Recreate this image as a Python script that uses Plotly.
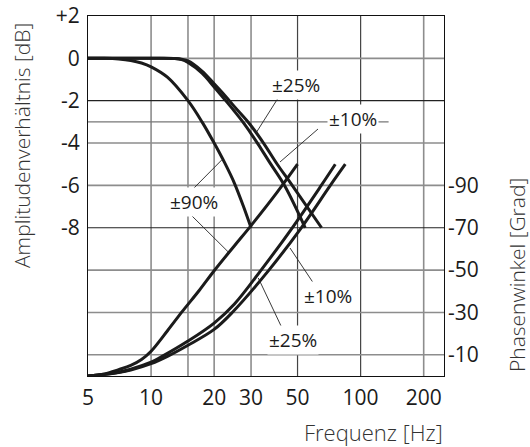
import plotly.graph_objects as go

# ---------------- data ----------------
# amplitude curves [Hz] -> [dB]
amp90_f = [5, 6, 7, 8, 9, 10, 12, 15, 17.5, 20, 22.5, 25, 27.5, 30]
amp90_db = [0, 0, -0.03, -0.1, -0.22, -0.4, -0.9, -2.0, -3.0, -4.0, -4.95, -5.9, -6.95, -8.0]

amp25_f = [5, 10, 13, 14, 15, 17.5, 20, 22.5, 25, 27.4, 30, 32.4, 37, 43.6, 54.4]
amp25_db = [0, 0, -0.01, -0.06, -0.2, -0.7, -1.35, -1.95, -2.5, -3.0, -3.55, -4.05, -4.95, -6.05, -8.0]

amp10_f = [5, 10, 13, 14, 15, 17.5, 20, 22.5, 25, 29.3, 34.4, 40, 46.8, 65.1]
amp10_db = [0, 0, -0.01, -0.04, -0.12, -0.6, -1.2, -1.75, -2.28, -3.05, -4.0, -5.0, -5.95, -8.0]

# phase curves [Hz] -> [Grad]
ph90_f = [5, 6, 7, 8, 9, 10, 12, 14.1, 17, 20, 25, 30, 40, 50]
ph90_deg = [0, -1, -3, -5, -7.8, -11.7, -21.5, -30.5, -40.5, -49.7, -61.5, -71, -86.8, -100]

ph25_f = [5, 6, 7, 8, 10, 11.4, 15, 20, 25, 33.5, 47.2, 64.9, 75.7]
ph25_deg = [0, -0.8, -1.8, -3.2, -6.5, -9.5, -16.5, -25, -34, -50, -70, -90, -100]

ph10_f = [5, 6, 7, 8, 10, 12.1, 15, 20, 24.4, 36.5, 52.1, 71.7, 84.5]
ph10_deg = [0, -0.7, -1.6, -2.8, -5.8, -9.5, -14.5, -22, -30, -50, -70, -90, -100]

x_ticks = [5, 10, 20, 30, 50, 100, 200]
x_ticktext = ["5", "10", "20", "30", "50", "100", "200"]
db_ticks = [2, 0, -2, -4, -6, -8]
db_ticktext = ["+2", "0", "-2", "-4", "-6", "-8"]
deg_ticks = [-90, -70, -50, -30, -10]
deg_ticktext = ["-90", "-70", "-50", "-30", "-10"]

grid_f_light = [10, 15, 20, 30, 200]
grid_f_dark = [50, 100]
grid_db_light = [0, -4, -6, -10, -12, -14]
grid_db_dark = [-2, -8]

# ---------------- figure ----------------
W, H = 530, 447
L, R, T, B = 88, 86, 16, 71
PW, PH = W - L - R, H - T - B

CURVE = "#1b1b1b"
FONT = "Open Sans"

fig = go.Figure()
line_style = dict(color=CURVE, width=3, shape="spline", smoothing=1.0)
for f, v in [(amp90_f, amp90_db), (amp25_f, amp25_db), (amp10_f, amp10_db)]:
    fig.add_trace(go.Scatter(x=f, y=v, mode="lines", line=line_style,
                             showlegend=False, yaxis="y", hoverinfo="skip"))
for f, v in [(ph90_f, ph90_deg), (ph25_f, ph25_deg), (ph10_f, ph10_deg)]:
    fig.add_trace(go.Scatter(x=f, y=v, mode="lines", line=line_style,
                             showlegend=False, yaxis="y2", hoverinfo="skip"))

shapes = []
for f in grid_f_light:
    shapes.append(dict(type="line", xref="x", yref="paper", x0=f, x1=f, y0=0, y1=1,
                       line=dict(color="#8d8d8d", width=1.6), layer="below"))
for f in grid_f_dark:
    shapes.append(dict(type="line", xref="x", yref="paper", x0=f, x1=f, y0=0, y1=1,
                       line=dict(color="#444444", width=1.2), layer="below"))
for d in grid_db_light:
    shapes.append(dict(type="line", xref="paper", yref="y", x0=0, x1=1, y0=d, y1=d,
                       line=dict(color="#8d8d8d", width=1.6), layer="below"))
for d in grid_db_dark:
    shapes.append(dict(type="line", xref="paper", yref="y", x0=0, x1=1, y0=d, y1=d,
                       line=dict(color="#222222", width=1.2), layer="below"))
# partial -3 dB reference line
shapes.append(dict(type="line", xref="x", yref="y", x0=5, x1=136, y0=-3, y1=-3,
                   line=dict(color="#777777", width=1.4), layer="below"))


def px(xp):
    return (xp - L) / PW


def py(yp):
    return (T + PH - yp) / PH


labels = [
    ("±25%", 295.5, 85, [((280, 95), (256, 133))]),
    ("±10%", 353, 119.5, [((318, 129), (280, 162))]),
    ("±90%", 194, 202, [((192, 190), (221.7, 160)), ((189, 213), (228.3, 252))]),
    ("±10%", 327.5, 295.5, [((314, 284), (290, 248))]),
    ("±25%", 293.3, 339.5, [((282, 328), (258.3, 278))]),
]
annotations = []
for text, cx, cy, leaders in labels:
    for (x0, y0), (x1, y1) in leaders:
        shapes.append(dict(type="line", xref="paper", yref="paper",
                           x0=px(x0), y0=py(y0), x1=px(x1), y1=py(y1),
                           line=dict(color="#222222", width=0.9), layer="above"))
    annotations.append(dict(text=text, x=px(cx), y=py(cy), xref="paper", yref="paper",
                            xanchor="center", yanchor="middle",
                            showarrow=False, bgcolor="white", borderpad=1,
                            font=dict(family=FONT, size=19, color="#1b1b1b")))

title_font = dict(family=FONT, size=21, color="#333333", weight=300)
annotations += [
    dict(text="Amplitudenverhältnis [dB]", x=px(22), y=py(146), xref="paper", yref="paper",
         xanchor="center", yanchor="middle", showarrow=False, textangle=-90, font=title_font),
    dict(text="Phasenwinkel [Grad]", x=px(517), y=py(275), xref="paper", yref="paper",
         xanchor="center", yanchor="middle", showarrow=False, textangle=-90, font=title_font),
    dict(text="Frequenz [Hz]", x=px(445), y=py(432), xref="paper", yref="paper",
         xanchor="right", yanchor="middle", showarrow=False,
         font=dict(family=FONT, size=22, color="#333333", weight=300)),
]

tickfont = dict(family=FONT, size=21, color="#1b1b1b", weight=500)
fig.update_layout(
    width=W, height=H,
    margin=dict(l=L, r=R, t=T, b=B, pad=0, autoexpand=False),
    paper_bgcolor="white", plot_bgcolor="white",
    xaxis=dict(type="log", range=[0.69897, 2.39794], tickvals=x_ticks, ticktext=x_ticktext,
               showgrid=False, zeroline=False, ticks="", tickfont=tickfont,
               showline=True, linecolor="#111111", linewidth=1.2, mirror=True,
               ticklabelstandoff=3, automargin=False),
    yaxis=dict(range=[-15, 2], tickvals=db_ticks, ticktext=db_ticktext,
               showgrid=False, zeroline=False, ticks="", tickfont=tickfont,
               showline=True, linecolor="#111111", linewidth=1.2, mirror=True,
               ticklabelstandoff=3, automargin=False),
    yaxis2=dict(range=[0, -170], overlaying="y", side="right",
                tickvals=deg_ticks, ticktext=deg_ticktext,
                showgrid=False, zeroline=False, ticks="", tickfont=tickfont,
                showline=False, ticklabelstandoff=3, automargin=False),
    shapes=shapes,
    annotations=annotations,
    showlegend=False,
)

fig.write_html("out.html", config={"displayModeBar": False},
               post_script="document.body.style.margin='0px';")
